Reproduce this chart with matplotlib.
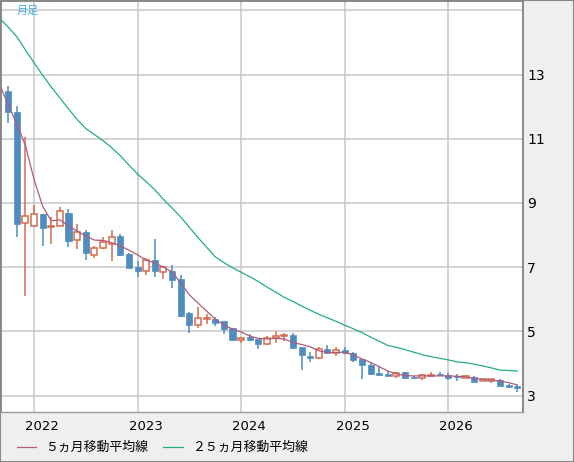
import matplotlib
matplotlib.use("Agg")
import matplotlib.pyplot as plt
from matplotlib.lines import Line2D
from matplotlib.patches import Rectangle
from matplotlib.transforms import ScaledTranslation

# month index, 0 = Jan 2022
months = list(range(-3, 57))
opens = [12.49, 11.83, 8.36, 8.29, 8.64, 8.25, 8.28, 8.68, 7.83, 8.10,
         7.38, 7.60, 7.73, 7.97, 7.41, 6.99, 6.89, 7.21, 6.86, 6.89,
         6.63, 5.56, 5.21, 5.37, 5.38, 5.32, 5.10, 4.74, 4.82, 4.76,
         4.59, 4.80, 4.84, 4.88, 4.50, 4.23, 4.16, 4.45, 4.31, 4.42,
         4.33, 4.14, 3.96, 3.71, 3.67, 3.62, 3.73, 3.59, 3.55, 3.61,
         3.67, 3.64, 3.60, 3.55, 3.58, 3.44, 3.46, 3.48, 3.33, 3.30]
highs = [12.64, 12.02, 11.06, 8.93, 8.66, 8.57, 8.88, 8.81, 8.34, 8.16,
         7.67, 7.95, 8.16, 8.03, 7.43, 7.19, 7.27, 7.88, 7.03, 7.06,
         6.74, 5.59, 5.77, 5.53, 5.45, 5.33, 5.11, 4.82, 4.91, 4.77,
         4.86, 5.00, 4.94, 4.95, 4.50, 4.35, 4.50, 4.57, 4.51, 4.50,
         4.35, 4.15, 4.00, 3.88, 3.77, 3.73, 3.74, 3.62, 3.67, 3.72,
         3.72, 3.71, 3.66, 3.64, 3.61, 3.50, 3.51, 3.50, 3.36, 3.32]
lows = [11.48, 7.95, 6.10, 8.26, 7.67, 7.71, 8.27, 7.64, 7.56, 7.22,
        7.27, 7.56, 7.19, 7.35, 6.97, 6.70, 6.75, 6.70, 6.63, 6.36,
        5.44, 4.96, 5.11, 5.24, 5.17, 4.91, 4.69, 4.63, 4.70, 4.46,
        4.56, 4.64, 4.69, 4.47, 3.79, 4.05, 4.14, 4.29, 4.24, 4.30,
        4.04, 3.52, 3.63, 3.61, 3.60, 3.55, 3.55, 3.50, 3.49, 3.58,
        3.60, 3.49, 3.46, 3.54, 3.43, 3.44, 3.40, 3.30, 3.23, 3.12]
closes = [11.84, 8.35, 8.59, 8.64, 8.23, 8.29, 8.74, 7.82, 8.10, 7.43,
          7.60, 7.79, 7.95, 7.38, 6.98, 6.89, 7.21, 6.89, 6.99, 6.60,
          5.48, 5.20, 5.40, 5.40, 5.27, 5.08, 4.73, 4.80, 4.73, 4.61,
          4.80, 4.85, 4.89, 4.49, 4.27, 4.18, 4.44, 4.31, 4.41, 4.31,
          4.12, 3.94, 3.68, 3.65, 3.61, 3.70, 3.55, 3.55, 3.65, 3.65,
          3.63, 3.55, 3.58, 3.60, 3.43, 3.50, 3.50, 3.31, 3.26, 3.22]

ma_months = list(range(-4, 57))
ma5 = [12.70, 12.08, 11.46, 10.80, 9.74, 8.90, 8.44, 8.47, 8.28, 8.12,
       7.97, 7.84, 7.83, 7.76, 7.66, 7.53, 7.38, 7.22, 7.13, 7.00,
       6.85, 6.50, 6.14, 5.88, 5.63, 5.38, 5.20, 5.07, 4.98, 4.85,
       4.78, 4.76, 4.78, 4.76, 4.65, 4.59, 4.52, 4.39, 4.34, 4.34,
       4.35, 4.26, 4.14, 4.03, 3.90, 3.76, 3.67, 3.62, 3.61, 3.61,
       3.61, 3.61, 3.61, 3.60, 3.58, 3.53, 3.50, 3.48, 3.45, 3.40, 3.33]
ma25 = [14.76, 14.48, 14.18, 13.77, 13.37, 12.98, 12.61, 12.27, 11.93, 11.60,
        11.32, 11.13, 10.94, 10.72, 10.47, 10.18, 9.90, 9.66, 9.41, 9.11,
        8.84, 8.56, 8.24, 7.92, 7.62, 7.32, 7.14, 6.98, 6.84, 6.70,
        6.55, 6.38, 6.22, 6.06, 5.93, 5.79, 5.66, 5.53, 5.42, 5.31,
        5.19, 5.08, 4.96, 4.82, 4.69, 4.56, 4.50, 4.43, 4.35, 4.27,
        4.21, 4.16, 4.11, 4.05, 4.02, 3.98, 3.92, 3.86, 3.79, 3.78, 3.76]

year_ticks = [0, 12, 24, 36, 48]
year_labels = ["2022", "2023", "2024", "2025", "2026"]
price_ticks = [3, 5, 7, 9, 11, 13, 15]
price_labels = ["3", "5", "7", "9", "11", "13", ""]
legend_labels = ["５ヵ月移動平均線", "２５ヵ月移動平均線"]

up_color = "#d8694a"
down_color = "#4f8dc0"
ma5_color = "#b05c7e"
ma25_color = "#22b07a"
jp = ["Noto Sans CJK JP", "DejaVu Sans"]

fig = plt.figure(figsize=(5.74, 4.62), dpi=100, facecolor="#efefef")
ax = fig.add_axes([1 / 574, 50 / 462, 522 / 574, 411 / 462])
ax.set_facecolor("white")

width = 0.7
for m, o, h, l, c in zip(months, opens, highs, lows, closes):
    up = c >= o
    col = up_color if up else down_color
    ax.vlines(m, l, h, color=col, linewidth=1.1, zorder=2)
    bottom = min(o, c)
    height = max(abs(c - o), 0.03)
    if up:
        ax.bar(m, height, width, bottom=bottom, facecolor="white",
               edgecolor=col, linewidth=1.1, zorder=3)
    else:
        ax.bar(m, height, width, bottom=bottom, facecolor=col,
               edgecolor=col, linewidth=0.5, zorder=3)

ax.plot(ma_months, ma5, color=ma5_color, linewidth=0.9, zorder=4)
ax.plot(ma_months, ma25, color=ma25_color, linewidth=0.9, zorder=4)

ax.set_xlim(-3.82, 56.66)
ax.set_ylim(2.486, 15.29)

ax.set_xticks(year_ticks)
ax.set_xticklabels(year_labels, fontsize=9.5)
ax.yaxis.tick_right()
ax.set_yticks(price_ticks)
ax.set_yticklabels(price_labels, fontsize=10)
ax.tick_params(axis="both", length=0)
ax.tick_params(axis="x", pad=6)
ax.tick_params(axis="y", pad=3)
for lbl in ax.get_xticklabels():
    lbl.set_transform(lbl.get_transform()
                      + ScaledTranslation(8 / 100, 0, fig.dpi_scale_trans))

ax.grid(True, color="#c8c8c8", linewidth=1.1, zorder=0)
ax.set_axisbelow(True)
for side in ["left", "top", "right"]:
    ax.spines[side].set_color("#777777")
    ax.spines[side].set_linewidth(1.2)
ax.spines["bottom"].set_color("#999999")
ax.spines["bottom"].set_linewidth(1.0)

ax.text(16 / 522, 1 - 10 / 411, "月足", transform=ax.transAxes,
        color="#3aaee0", fontsize=8, family=jp, va="center", ha="left")

# legend drawn by hand at the bottom
ly = 1 - 447 / 462
fig.add_artist(Line2D([17 / 574, 36 / 574], [ly, ly], color=ma5_color,
                      linewidth=0.9))
fig.text(45 / 574, ly, legend_labels[0], fontsize=9.3, family=jp,
         va="center", ha="left")
fig.add_artist(Line2D([163 / 574, 183 / 574], [ly, ly], color=ma25_color,
                      linewidth=0.9))
fig.text(192 / 574, ly, legend_labels[1], fontsize=9.3, family=jp,
         va="center", ha="left")

fig.add_artist(Rectangle((0, 0), 1, 1, transform=fig.transFigure,
                         fill=False, edgecolor="#888888", linewidth=1.5))

fig.savefig("out.png", dpi=100, facecolor=fig.get_facecolor())
